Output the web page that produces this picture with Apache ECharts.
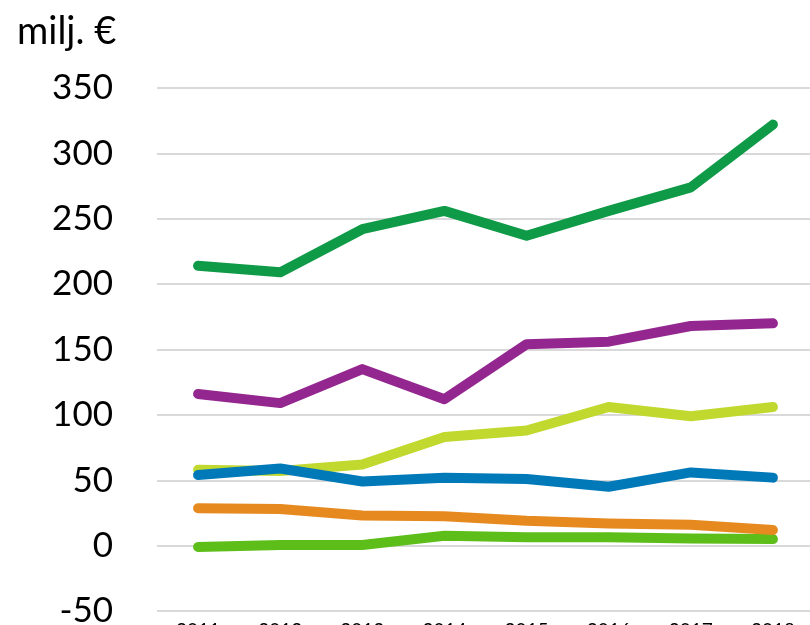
<!DOCTYPE html>
<html>
<head>
<meta charset="utf-8">
<script src="https://cdn.jsdelivr.net/npm/echarts@6/dist/echarts.min.js"></script>
<style>html,body{margin:0;padding:0;background:#fff;}#c{width:810px;height:625px;}</style>
</head>
<body>
<div id="c"></div>
<script>
const years = ['2011','2012','2013','2014','2015','2016','2017','2018'];
const darkGreen = [214, 209, 242, 256, 237, 256, 274, 322];
const purple = [116, 109, 135, 112, 154, 156, 168, 170];
const lime = [58, 57, 62, 83, 88, 106, 99, 106];
const blue = [54, 59, 49, 52, 51, 45, 56, 52];
const orange = [28.5, 28, 23, 22.5, 19, 17, 16, 12];
const brightGreen = [-1, 0.5, 0.5, 7.5, 6.5, 6.5, 5.5, 5];
const yTicks = {min: -50, max: 350, interval: 50};
const unitLabel = 'milj. €';

const font = 'Lato, "Open Sans", sans-serif';
function line(name, data, color) {
  return {
    name: name, type: 'line', data: data, symbol: 'none', silent: true,
    lineStyle: {color: color, width: 10, cap: 'round', join: 'round'},
    itemStyle: {color: color}
  };
}
const chart = echarts.init(document.getElementById('c'));
chart.setOption({
  animation: false,
  title: {text: unitLabel, left: 12, top: 8, textStyle: {fontFamily: font, fontSize: 38, fontWeight: 'normal', color: '#000'}},
  grid: {left: 157, top: 88, right: -4, bottom: 14, containLabel: false, outerBoundsMode: 'none'},
  xAxis: {
    type: 'category', data: years, boundaryGap: true,
    axisLine: {show: false}, axisTick: {show: false},
    axisLabel: {fontFamily: font, fontSize: 19, color: '#000', margin: 10, interval: 0}
  },
  yAxis: {
    type: 'value', min: yTicks.min, max: yTicks.max, interval: yTicks.interval,
    axisLine: {show: false}, axisTick: {show: false},
    axisLabel: {fontFamily: font, fontSize: 35, color: '#000', margin: 44},
    splitLine: {lineStyle: {color: '#d9d9d9', width: 2}}
  },
  series: [
    line('brightGreen', brightGreen, '#5dbe1a'),
    line('orange', orange, '#e68a20'),
    line('lime', lime, '#c1d82f'),
    line('blue', blue, '#0079b9'),
    line('purple', purple, '#93278f'),
    line('darkGreen', darkGreen, '#0e9a47')
  ]
});
</script>
</body>
</html>
